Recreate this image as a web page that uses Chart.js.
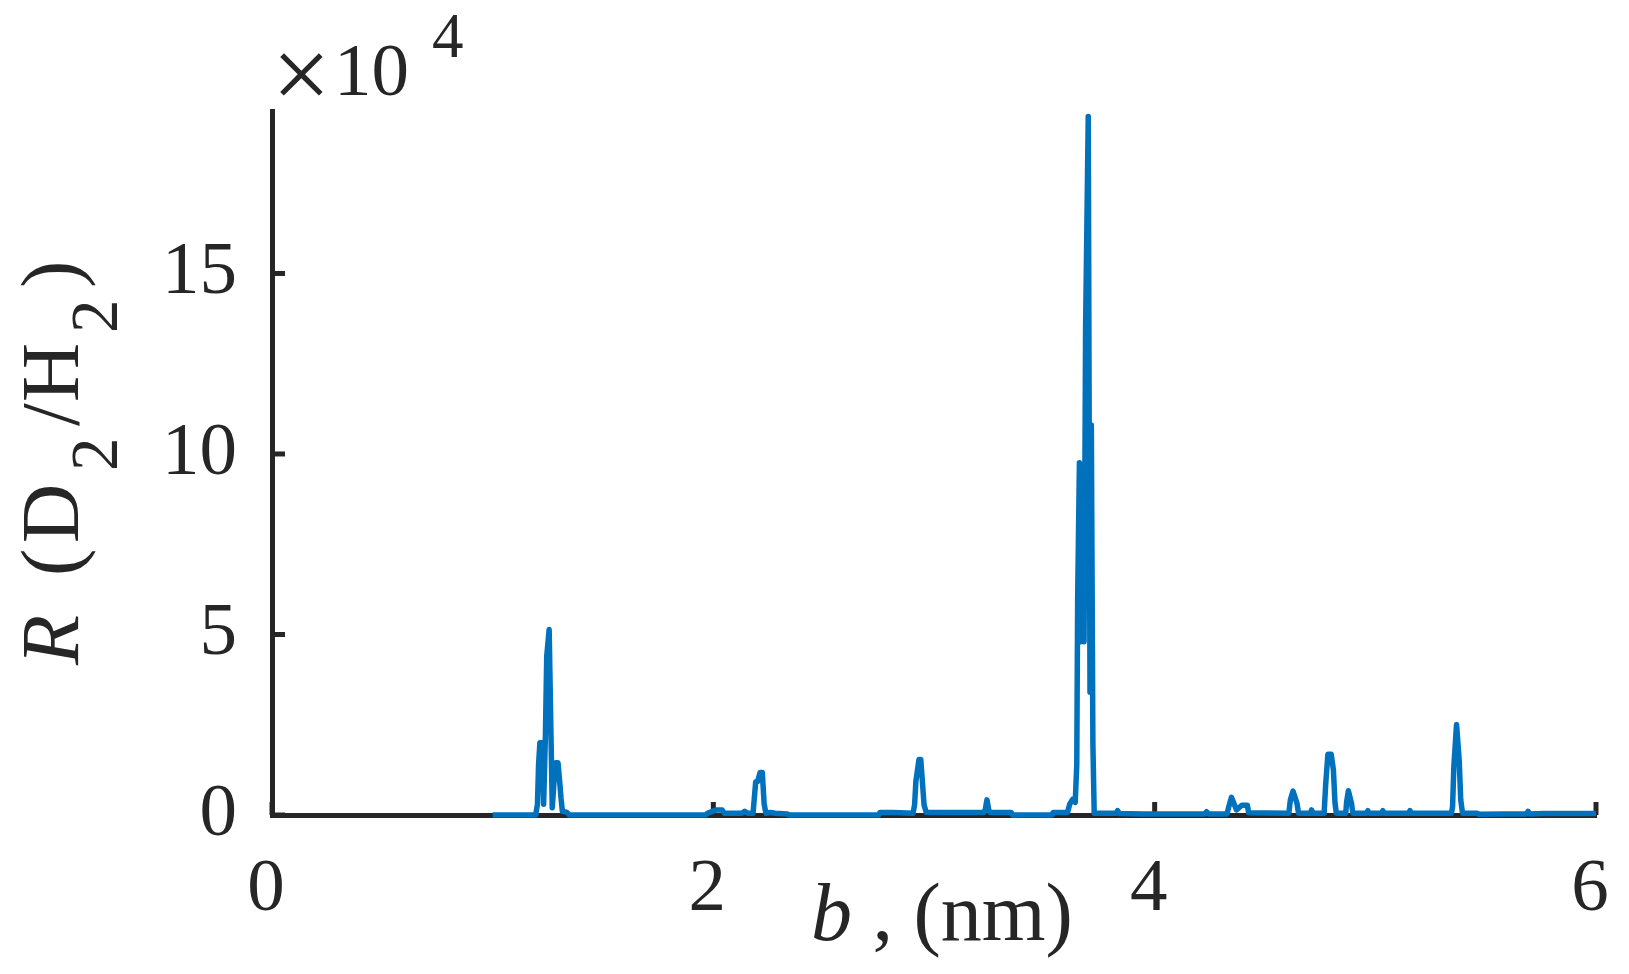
<!DOCTYPE html>
<html>
<head>
<meta charset="utf-8">
<script src="https://cdn.jsdelivr.net/npm/chart.js@4.4.1/dist/chart.umd.min.js"></script>
<style>
  html, body { margin: 0; padding: 0; background: #ffffff; }
  canvas { display: block; }
</style>
</head>
<body>
<canvas id="ratioChart" width="1629" height="974"></canvas>
<script>
// b in nm
const bValues = [
  1.000, 1.195, 1.203, 1.208, 1.214, 1.224, 1.231, 1.239, 1.245, 1.256, 1.264, 1.270,
  1.279, 1.285, 1.296, 1.304, 1.310, 1.316, 1.335, 1.348,
  1.965, 1.975, 2.015, 2.040, 2.050, 2.130, 2.142, 2.155, 2.180, 2.192, 2.200, 2.212,
  2.222, 2.230, 2.238, 2.258, 2.280, 2.335, 2.345,
  2.750, 2.755, 2.815, 2.905, 2.912, 2.918, 2.932, 2.940, 2.955, 2.965, 3.070,
  3.225, 3.232, 3.240, 3.248, 3.255, 3.350, 3.355,
  3.535, 3.540, 3.605, 3.615, 3.628, 3.640, 3.647, 3.651, 3.659, 3.666, 3.672, 3.680,
  3.687, 3.699, 3.707, 3.713, 3.720, 3.726, 3.825, 3.832, 3.840, 3.950,
  4.228, 4.235, 4.245, 4.328, 4.336, 4.348, 4.371, 4.395, 4.420, 4.426,
  4.608, 4.615, 4.627, 4.645, 4.652, 4.705, 4.711, 4.718,
  4.768, 4.775, 4.785, 4.800, 4.810, 4.817, 4.823,
  4.866, 4.870, 4.878, 4.892, 4.898, 4.960, 4.966, 4.972, 5.028, 5.034, 5.040,
  5.150, 5.157, 5.164, 5.345, 5.350, 5.356, 5.368, 5.380, 5.387, 5.395,
  5.460, 5.470, 5.580, 5.685, 5.692, 5.700, 5.760, 5.800, 5.940, 6.000
];

// R(D2/H2) in units of 10^4
const ratioValues = [
  0, 0, 0.3, 1.4, 2.0, 2.0, 0.3, 2.2, 4.4, 5.14, 2.3, 0.2,
  1.0, 1.45, 1.45, 0.9, 0.45, 0.1, 0.08, 0,
  0, 0.05, 0.14, 0.14, 0.05, 0.05, 0.1, 0.05, 0.05, 0.92, 0.92, 1.18,
  1.18, 0.32, 0.05, 0.07, 0.05, 0.03, 0,
  0, 0.07, 0.07, 0.05, 0.28, 0.94, 1.54, 1.54, 0.28, 0.07, 0.07,
  0.07, 0.14, 0.42, 0.14, 0.07, 0.07, 0,
  0, 0.07, 0.07, 0.30, 0.43, 0.35, 1.4, 6.0, 9.76, 4.8, 5.35, 4.8,
  13.5, 19.35, 3.4, 10.8, 2.0, 0.05, 0.05, 0.12, 0.04, 0.03,
  0.03, 0.09, 0.03, 0.03, 0.23, 0.49, 0.14, 0.27, 0.27, 0.06,
  0.05, 0.42, 0.66, 0.32, 0.05, 0.05, 0.14, 0.05,
  0.05, 0.85, 1.68, 1.68, 1.25, 0.35, 0.05,
  0.05, 0.37, 0.67, 0.32, 0.05, 0.05, 0.12, 0.05, 0.05, 0.12, 0.05,
  0.05, 0.12, 0.05, 0.05, 0.23, 1.36, 2.51, 1.52, 0.42, 0.05,
  0.05, 0.02, 0.03, 0.03, 0.1, 0.03, 0.04, 0.04, 0.04, 0.04
];

const xTicks = [0, 2, 4, 6];
const yTicks = [0, 5, 10, 15];

const axisColor = '#262626';
const lineColor = '#0072BD';
const serif = '"Liberation Serif", "Times New Roman", serif';

// inward tick marks, MATLAB style
const innerTicks = {
    id: 'innerTicks',
    beforeDatasetsDraw(chart) {
        const ctx = chart.ctx;
        const area = chart.chartArea;
        const xs = chart.scales.x;
        const ys = chart.scales.y;
        const len = 13;
        ctx.save();
        ctx.strokeStyle = axisColor;
        ctx.lineWidth = 5;
        xTicks.forEach(v => {
            const px = xs.getPixelForValue(v);
            ctx.beginPath();
            ctx.moveTo(px, area.bottom);
            ctx.lineTo(px, area.bottom - len);
            ctx.stroke();
        });
        yTicks.forEach(v => {
            const py = ys.getPixelForValue(v);
            ctx.beginPath();
            ctx.moveTo(area.left, py);
            ctx.lineTo(area.left + len, py);
            ctx.stroke();
        });
        ctx.restore();
    }
};

// axis titles and the exponent label (mixed italic / subscripts)
const axisText = {
    id: 'axisText',
    afterDraw(chart) {
        const ctx = chart.ctx;
        ctx.save();
        ctx.fillStyle = axisColor;
        ctx.textBaseline = 'alphabetic';
        ctx.textAlign = 'left';

        // x title
        ctx.font = 'italic 82px ' + serif;
        ctx.fillText('b', 811, 940);
        const bw = ctx.measureText('b').width;
        ctx.font = '82px ' + serif;
        ctx.fillText(' , (nm)', 811 + bw, 940);

        // exponent
        ctx.font = '104px ' + serif;
        ctx.fillText('\u00d7', 272, 109);
        ctx.font = '75px ' + serif;
        ctx.fillText('10', 334, 95);
        ctx.font = '63px ' + serif;
        ctx.fillText('4', 432, 57);

        // y title, rotated
        ctx.translate(78, 665);
        ctx.rotate(-Math.PI / 2);
        ctx.font = 'italic 82px ' + serif;
        ctx.fillText('R', 0, 0);
        ctx.font = '82px ' + serif;
        ctx.fillText('(', 89, 0);
        ctx.fillText('D', 122, 0);
        ctx.fillText('/', 239, 0);
        ctx.fillText('H', 263, 0);
        ctx.fillText(')', 377, 0);
        ctx.font = '67px ' + serif;
        ctx.fillText('2', 194, 39);
        ctx.fillText('2', 332, 39);
        ctx.restore();
    }
};

const ctx = document.getElementById('ratioChart').getContext('2d');
new Chart(ctx, {
    type: 'line',
    data: {
        datasets: [{
            data: bValues.map((b, i) => ({ x: b, y: ratioValues[i] })),
            borderColor: lineColor,
            borderWidth: 5.5,
            borderJoinStyle: 'round',
            pointRadius: 0,
            tension: 0,
            fill: false,
            clip: 8
        }]
    },
    options: {
        responsive: false,
        devicePixelRatio: 1,
        animation: false,
        events: [],
        layout: { padding: { top: 111, right: 33, left: 0, bottom: 0 } },
        plugins: {
            legend: { display: false },
            tooltip: { enabled: false }
        },
        scales: {
            x: {
                type: 'linear',
                min: 0,
                max: 6,
                afterBuildTicks: s => { s.ticks = xTicks.map(v => ({ value: v })); },
                afterFit: s => {
                    s.height = 974 - 815;
                    s.paddingLeft = 0;
                    s.paddingRight = 0;
                },
                grid: { display: false, drawTicks: false },
                border: { display: true, color: axisColor, width: 5 },
                ticks: {
                    color: axisColor,
                    padding: 30,
                    labelOffset: -6,
                    maxRotation: 0,
                    font: { family: serif, size: 75 }
                }
            },
            y: {
                type: 'linear',
                min: 0,
                max: 19.5,
                afterBuildTicks: s => { s.ticks = yTicks.map(v => ({ value: v })); },
                afterFit: s => {
                    s.width = 272;
                    s.paddingTop = 0;
                    s.paddingBottom = 0;
                },
                grid: { display: false, drawTicks: false },
                border: { display: true, color: axisColor, width: 5 },
                ticks: {
                    color: axisColor,
                    padding: 35,
                    font: { family: serif, size: 75 }
                }
            }
        }
    },
    plugins: [innerTicks, axisText]
});
</script>
</body>
</html>
